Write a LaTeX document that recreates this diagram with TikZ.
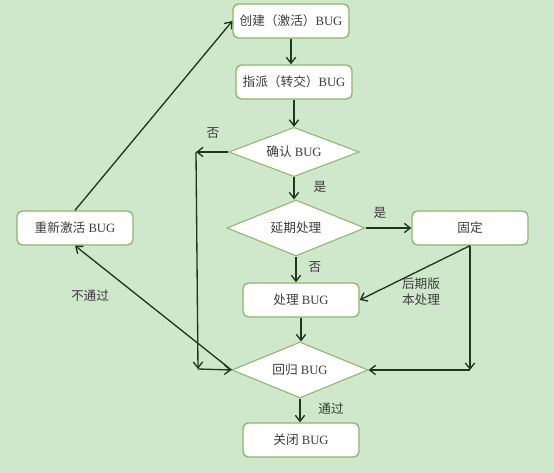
\documentclass[tikz,border=0pt]{standalone}
\usepackage{fontspec}
\setmainfont{Liberation Serif}
\newfontfamily\cjk{Noto Sans CJK SC}
\usetikzlibrary{arrows.meta,shapes.geometric}

\definecolor{bgreen}{HTML}{CFE7CB}
\definecolor{edgegreen}{HTML}{8CB86A}
\definecolor{linedark}{HTML}{1F361F}
\definecolor{txtgray}{HTML}{3C3C3C}

\tikzset{
  box/.style={draw=edgegreen, line width=1pt, fill=white, rounded corners=4pt,
              minimum width=87pt, minimum height=25.5pt, inner sep=0pt,
              text=txtgray, font=\fontsize{9.5}{11}\selectfont},
  decide/.style={diamond, draw=edgegreen, line width=0.8pt, fill=white,
              aspect=2.6, inner sep=0pt, text=txtgray,
              font=\fontsize{9.5}{11}\selectfont},
  arr/.style={draw=linedark, line width=1pt,
              -{Straight Barb[length=4.5pt,width=7pt]}},
  lbl/.style={text=txtgray, font=\fontsize{9.5}{12}\selectfont, align=center}
}

\begin{document}
\begin{tikzpicture}[x=0.75pt, y=-0.75pt]

\fill [bgreen] (0,0) rectangle (554,473);
\useasboundingbox (0,0) rectangle (554,473);

% boxes and decisions
\node [box] (chuangjian) at (291,21)  {{\cjk 创建（激活）}BUG};
\node [box] (zhipai)     at (294,82)  {{\cjk 指派（转交）}BUG};
\node [decide, minimum width=98pt, minimum height=37pt]  (queren) at (294,152) {{\cjk 确认} BUG};
\node [decide, minimum width=103.5pt, minimum height=42pt] (yanqi) at (296,228) {\cjk 延期处理};
\node [box] (guding)     at (470,228) {\cjk 固定};
\node [box] (chuli)      at (301,300) {{\cjk 处理} BUG};
\node [decide, minimum width=102pt, minimum height=42pt] (huigui) at (300,370) {{\cjk 回归} BUG};
\node [box] (guanbi)     at (301,440) {{\cjk 关闭} BUG};
\node [box] (chongxin)   at (75,228)  {{\cjk 重新激活} BUG};

% bend points
\coordinate (qleft) at (196,152);
\coordinate (qdown) at (198,369);
\coordinate (gdown) at (470,370);

% main line
\draw [arr] (chuangjian.south) -- (chuangjian.south |- zhipai.north);
\draw [arr] (zhipai.south) -- (zhipai.south |- queren.north);
\draw [arr] (queren.south) -- (queren.south |- yanqi.north);
\draw [arr] (yanqi.south) -- (yanqi.south |- chuli.north);
\draw [arr] (chuli.south) -- (chuli.south |- huigui.north);
\draw [arr] (huigui.south) -- (huigui.south |- guanbi.north);

% side branches
\draw [arr] (yanqi.east) -- (guding.west);
\draw [arr] (guding.south) -- (chuli.east);
\draw [arr] (guding.south) -- (gdown);
\draw [arr] (gdown) -- (huigui.east);
\draw [arr] (queren.west) -- (qleft);
\draw [arr] (qleft) -- (qdown);
\draw [arr] (qdown) -- (huigui.west);
\draw [arr] (huigui.west) -- (chongxin.south);
\draw [arr] (chongxin.north) -- (chuangjian.west);

% labels
\node [lbl] (l1) at (213,133) {\cjk 否};
\node [lbl] (l2) at (320,187) {\cjk 是};
\node [lbl] (l3) at (380,213) {\cjk 是};
\node [lbl] (l4) at (315,267) {\cjk 否};
\node [lbl] (l5) at (421,292) {\cjk 后期版\\\cjk 本处理};
\node [lbl] (l6) at (90,296)  {\cjk 不通过};
\node [lbl] (l7) at (331,409) {\cjk 通过};

\end{tikzpicture}
\end{document}
